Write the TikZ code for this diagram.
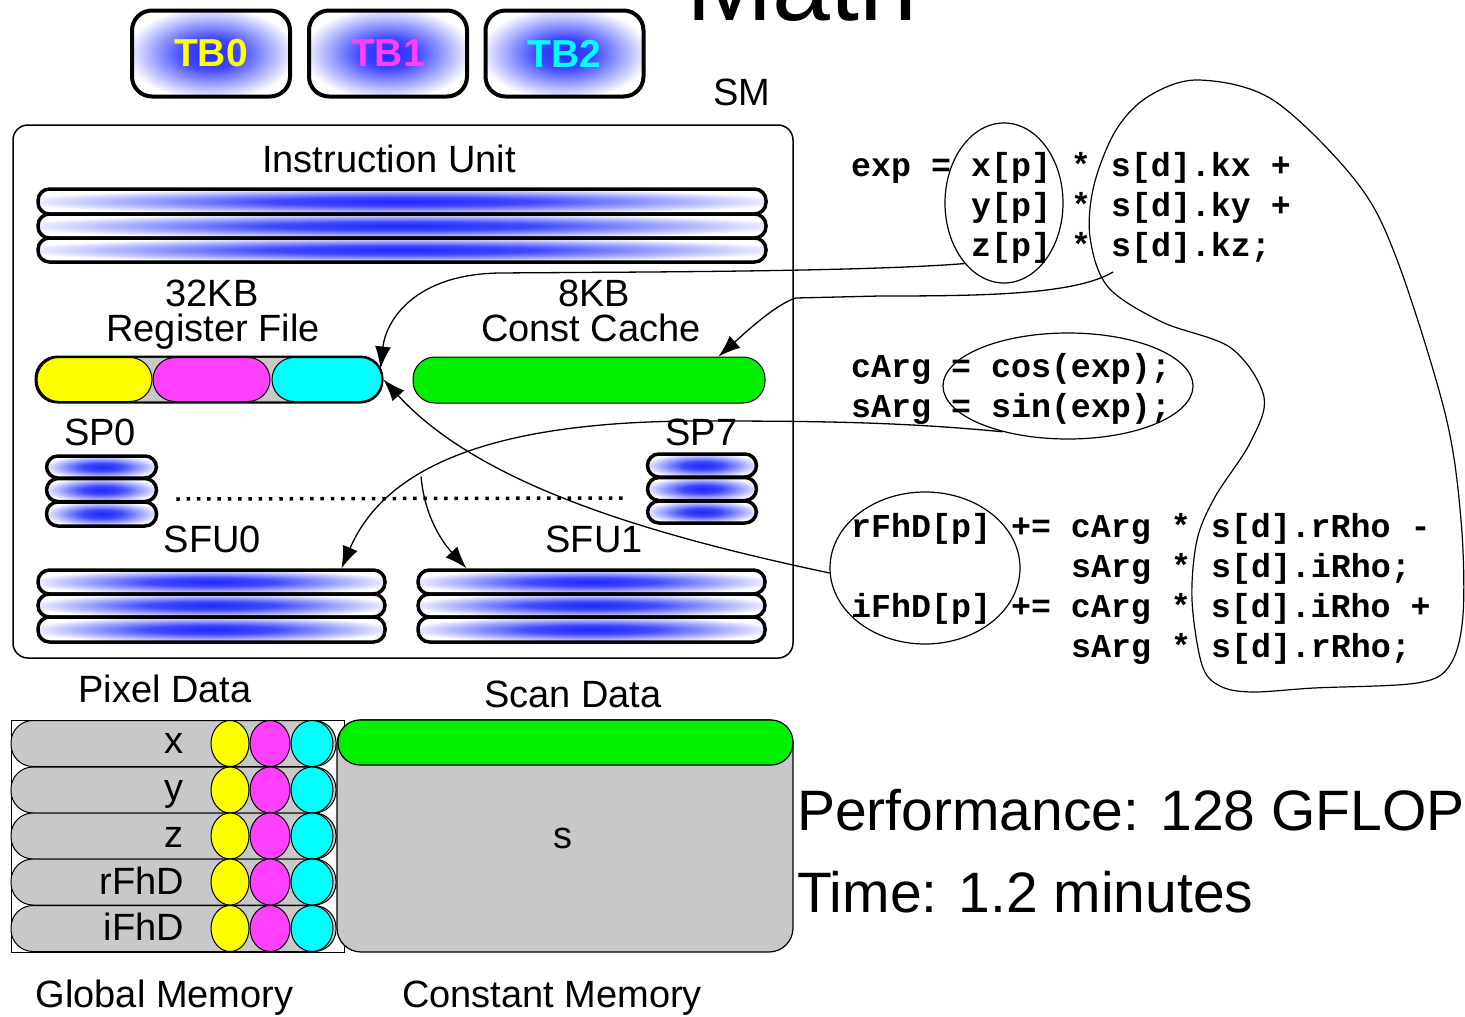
\documentclass[tikz,border=0pt]{standalone}
\usepackage{fontspec}
\setmainfont{Liberation Sans}
\newfontfamily\codefont{Liberation Mono}
\usetikzlibrary{shapes.geometric, arrows.meta}

\definecolor{glowblue}{RGB}{30,40,255}
\definecolor{memgray}{RGB}{200,200,200}
\definecolor{tbyellow}{RGB}{255,255,0}
\definecolor{tbmagenta}{RGB}{255,64,255}
\definecolor{tbcyan}{RGB}{0,255,255}
\definecolor{ccgreen}{RGB}{0,240,0}

% blue core fading to white towards the border of the shaded shape
\pgfdeclareradialshading{glow}{\pgfpoint{0bp}{0bp}}{color(0bp)=(glowblue); color(9bp)=(glowblue!85!white); color(27bp)=(white); color(50bp)=(white)}

\tikzset{
  lbl/.style={font=\fontsize{38}{40}\selectfont, inner sep=0pt, anchor=base},
  tbbox/.style={draw, line width=4pt, rounded corners=20pt, shade, shading=glow,
    minimum width=158pt, minimum height=86pt, inner sep=0pt,
    font=\fontsize{39}{40}\selectfont\bfseries},
  lane/.style={draw, line width=3.5pt, shade, shading=glow, inner sep=0pt, rounded corners=11.5pt},
  pill/.style={draw, line width=1pt, inner sep=0pt, rounded corners=22pt},
  cell/.style={draw, ellipse, line width=1pt, inner sep=0pt, minimum height=46pt},
  rowlbl/.style={font=\fontsize{38}{40}\selectfont, inner sep=0pt, anchor=base east},
  code/.style={font=\codefont\bfseries\fontsize{33.3}{36}\selectfont, inner sep=0pt, anchor=base west},
  ring/.style={draw, ellipse, line width=1.2pt, inner sep=0pt},
  flow/.style={line width=1.3pt, -{Latex[length=22pt,width=16pt]}},
}

\begin{document}
\begin{tikzpicture}[x=1pt, y=-1pt]
\useasboundingbox (0,0) rectangle (1465,1017);

% title, clipped by the page
\node[font=\fontsize{104}{110}\selectfont, inner sep=0pt, anchor=base west] (title) at (686,20) {Math};

% thread blocks
\node[tbbox, text=tbyellow]  (tb0) at (211,53.5) {TB0};
\node[tbbox, text=tbmagenta] (tb1) at (388,53.5) {TB1};
\node[tbbox, text=tbcyan]    (tb2) at (564.5,53.5) {TB2};

% streaming multiprocessor
\node[lbl] (smlbl) at (742,105) {SM};
\node[draw, line width=1.5pt, rounded corners=15pt, minimum width=780pt, minimum height=533pt, inner sep=0pt] (sm) at (403,391.5) {};

\node[lbl] (iulbl) at (389,172) {Instruction Unit};
\node[lane, minimum width=728pt, minimum height=25pt] (iuA) at (402,201.5) {};
\node[lane, minimum width=728pt, minimum height=24pt] (iuB) at (402,226) {};
\node[lane, minimum width=728pt, minimum height=24pt] (iuC) at (402,250) {};

% register file and constant cache
\node[lbl] (rfkb) at (212,306) {32KB};
\node[lbl] (rflbl) at (213,341) {Register File};
\node[lbl] (cckb) at (594,306) {8KB};
\node[lbl] (cclbl) at (591,341) {Const Cache};

\node[pill, fill=memgray, minimum width=346pt, minimum height=45pt] (regfile) at (209,379.5) {};
\node[pill, fill=tbyellow, minimum width=115pt, minimum height=44pt] (rfY) at (94.5,379.5) {};
\node[pill, fill=tbmagenta, minimum width=117pt, minimum height=44pt] (rfM) at (211.5,379.5) {};
\node[pill, fill=tbcyan, minimum width=110pt, minimum height=44pt] (rfC) at (327,379.5) {};
\draw[line width=2pt, rounded corners=22pt] (regfile.south west) rectangle (regfile.north east);

\node[pill, fill=ccgreen, minimum width=352pt, minimum height=46pt] (constcache) at (589,380) {};

% scalar processors
\node[lbl] (sp0lbl) at (100,445) {SP0};
\node[lbl] (sp7lbl) at (701.5,445) {SP7};
\node[lane, minimum width=110pt, minimum height=22pt] (spA1) at (101.5,467) {};
\node[lane, minimum width=110pt, minimum height=23pt] (spA2) at (101.5,490) {};
\node[lane, minimum width=110pt, minimum height=24pt] (spA3) at (101.5,514) {};
\node[lane, minimum width=109pt, minimum height=23pt] (spH1) at (702,465.5) {};
\node[lane, minimum width=109pt, minimum height=23pt] (spH2) at (702,489) {};
\node[lane, minimum width=109pt, minimum height=22pt] (spH3) at (702,512) {};
\draw[line width=3.5pt, dash pattern=on 3.5pt off 6.8pt] ([xshift=18pt,yshift=-9pt]spA2.east) -- ([xshift=-20pt,yshift=-9pt]spH2.west);

% special function units
\node[lbl] (sfu0lbl) at (212.5,552) {SFU0};
\node[lbl] (sfu1lbl) at (594,552) {SFU1};
\node[lane, minimum width=347pt, minimum height=24pt] (sfu0a) at (211.5,582) {};
\node[lane, minimum width=347pt, minimum height=23pt] (sfu0b) at (211.5,605.5) {};
\node[lane, minimum width=347pt, minimum height=25pt] (sfu0c) at (211.5,629.5) {};
\node[lane, minimum width=347pt, minimum height=24pt] (sfu1a) at (591.5,582) {};
\node[lane, minimum width=347pt, minimum height=23pt] (sfu1b) at (591.5,605.5) {};
\node[lane, minimum width=347pt, minimum height=25pt] (sfu1c) at (591.5,629.5) {};

% global memory: pixel data
\node[lbl] (pixlbl) at (165,702) {Pixel Data};
\node[draw, fill=white, line width=1pt, minimum width=333pt, minimum height=232pt, inner sep=0pt] (gmem) at (177.5,836) {};
\foreach \row/\cy/\dy/\txt in {rx/743.5/10/x, ry/790/10/y, rz/836/11/z, rr/882/12/rFhD, ri/928.5/12/iFhD}{
  \node[pill, fill=memgray, minimum width=325pt, minimum height=46pt] (\row) at (173.5,\cy) {};
  \node[rowlbl] (\row lbl) at (184,\cy+\dy) {\txt};
  \node[cell, fill=tbyellow, minimum width=38pt] (\row Y) at (230,\cy) {};
  \node[cell, fill=tbmagenta, minimum width=40pt] (\row M) at (270,\cy) {};
  \node[cell, fill=tbcyan, minimum width=42pt] (\row C) at (312,\cy) {};
}
\node[lbl] (gmemlbl) at (164.5,1007) {Global Memory};

% constant memory: scan data
\node[lbl] (scanlbl) at (573,707) {Scan Data};
\node[draw, fill=memgray, line width=1.2pt, rounded corners=24pt, minimum width=456pt, minimum height=232pt, inner sep=0pt] (cmem) at (565,836) {};
\node[pill, fill=ccgreen, line width=1.2pt, minimum width=455pt, minimum height=45pt] (scanbar) at (565.5,742.5) {};
\node[lbl] (slbl) at (563,848) {s};
\node[lbl] (cmemlbl) at (552,1007) {Constant Memory};

% kernel source
\node[code] (c1) at (851,176) {exp = x[p] * s[d].kx +};
\node[code] (c2) at (971,216) {y[p] * s[d].ky +};
\node[code] (c3) at (971,256) {z[p] * s[d].kz;};
\node[code] (c4) at (851,377) {cArg = cos(exp);};
\node[code] (c5) at (851,417) {sArg = sin(exp);};
\node[code] (c6) at (851,537) {rFhD[p] += cArg * s[d].rRho -};
\node[code] (c7) at (1071,577) {sArg * s[d].iRho;};
\node[code] (c8) at (851,617) {iFhD[p] += cArg * s[d].iRho +};
\node[code] (c9) at (1071,657) {sArg * s[d].rRho;};

\node[ring, minimum width=118pt, minimum height=160pt] (eXYZ) at (1004,203) {};
\node[ring, minimum width=250pt, minimum height=106pt] (eTrig) at (1068,386) {};
\node[ring, minimum width=190pt, minimum height=152pt] (eAcc) at (925,568) {};

% scan data accesses
\draw[line width=1.2pt] plot[smooth cycle, tension=0.55] coordinates {
  (1199,80) (1273,100) (1355,180) (1396,257) (1445,413) (1461,520) (1463,615)
  (1450,665) (1417,683) (1314,688) (1252,692) (1220,686) (1202,665) (1192,600)
  (1197,540) (1215,497) (1250,443) (1264,397) (1231,348) (1162,322) (1108,287)
  (1090,237) (1094,185) (1116,130) (1149,96)};

\coordinate (kzTail) at (1113,272);

% data movement
\draw[flow] (eXYZ.237) .. controls (860,272) and (620,272) .. (500,273)
  .. controls (415,274) and (386,320) .. ([xshift=-2pt,yshift=11pt]regfile.east);
\draw[flow] (kzTail) .. controls (1075,295) and (980,296) .. (880,296) -- (796,298)
  .. controls (776,304) and (746,332) .. ([xshift=-47pt]constcache.north east);
\draw[flow] (eAcc.183) .. controls (650,535) and (480,485) .. ([xshift=1pt]regfile.east);
\draw[flow] (eTrig.215) .. controls (900,422) and (820,421) .. (700,421)
  .. controls (520,421) and (390,455) .. ([xshift=130pt]sfu0a.north) coordinate[pos=0.65] (split);
\draw[flow] (split) .. controls (425,520) and (445,545) .. ([xshift=-125pt]sfu1a.north);

% results
\node[font=\fontsize{57}{60}\selectfont, inner sep=0pt, anchor=base west] (perf) at (797,830) {Performance: 128 GFLOP};
\node[font=\fontsize{57}{60}\selectfont, inner sep=0pt, anchor=base west] (time) at (797,912) {Time: 1.2 minutes};
\end{tikzpicture}
\end{document}
